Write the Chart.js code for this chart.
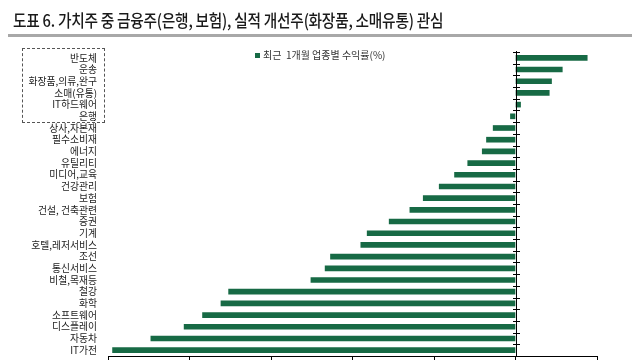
<!DOCTYPE html>
<html><head><meta charset="utf-8">
<script src="https://cdn.jsdelivr.net/npm/chart.js@4/dist/chart.umd.min.js"></script>
<style>
html,body{margin:0;padding:0;background:#fff;}
#wrap{position:relative;width:640px;height:360px;overflow:hidden;}
#c{position:absolute;left:0;top:0;}
#title{position:absolute;left:13px;top:9px;font-family:"Noto Sans CJK KR";font-size:17px;font-weight:500;color:#1a1a1a;white-space:nowrap;transform:scaleX(0.865);transform-origin:left top;line-height:22px;letter-spacing:-0.3px;}
#rule{position:absolute;left:8px;top:34px;width:624px;height:3px;background:#a8a8a8;}
#box{position:absolute;left:22px;top:48px;width:83px;height:75px;border:1.5px dashed #555;box-sizing:border-box;}
#legend{position:absolute;left:255px;top:48px;font-family:"Noto Sans CJK KR";font-size:10px;color:#333;white-space:nowrap;line-height:14px;}
#legend .sw{display:inline-block;width:5px;height:5px;background:#176a45;margin-right:3px;vertical-align:1px;}
</style></head>
<body>
<div id="wrap">
<canvas id="c" width="640" height="360"></canvas>
<div id="title">도표 6. 가치주 중 금융주(은행, 보험), 실적 개선주(화장품, 소매유통) 관심</div>
<div id="rule"></div>
<div id="box"></div>
<div id="legend"><span class="sw"></span>최근&nbsp; 1개월 업종별 수익률(%)</div>
</div>
<script>
const categories = ["반도체","운송","화장품,의류,완구","소매(유통)","IT하드웨어","은행","상사,자본재","필수소비재","에너지","유틸리티","미디어,교육","건강관리","보험","건설, 건축관련","증권","기계","호텔,레저서비스","조선","통신서비스","비철,목재등","철강","화학","소프트웨어","디스플레이","자동차","IT가전"];
const returns1M = [4.4,2.87,2.21,2.07,0.31,-0.31,-1.37,-1.78,-2.04,-2.93,-3.74,-4.68,-5.66,-6.48,-7.75,-9.1,-9.49,-11.35,-11.68,-12.55,-17.6,-18.07,-19.2,-20.33,-22.37,-24.72];
const seriesLabel = "최근  1개월 업종별 수익률(%)";
const xMin = -25, xMax = 5, xStep = 5;

const zeroAxis = {
  id:'zeroAxis',
  afterDatasetsDraw(chart){
    const {ctx, chartArea, scales:{x,y}} = chart;
    const x0 = Math.round(x.getPixelForValue(0)) + 0.5;
    ctx.save();
    ctx.strokeStyle = '#000';
    ctx.lineWidth = 1;
    ctx.beginPath();
    ctx.moveTo(x0, chartArea.top - 1);
    ctx.lineTo(x0, chartArea.bottom);
    for (let i = 0; i <= categories.length; i++) {
      const yy = Math.round(y.getPixelForValue(i - 0.5)) + 0.5;
      ctx.moveTo(x0 - 3.5, yy);
      ctx.lineTo(x0 + 3.5, yy);
    }
    ctx.stroke();
    ctx.restore();
  }
};

new Chart(document.getElementById('c'), {
  type:'bar',
  data:{labels:categories, datasets:[{label:seriesLabel, data:returns1M, backgroundColor:'#176a45', barThickness:5, borderWidth:0}]},
  options:{
    indexAxis:'y', responsive:false, animation:false,
    layout:{padding:{left:0,right:43,top:52,bottom:0}},
    plugins:{legend:{display:false}, tooltip:{enabled:false}, title:{display:false}},
    scales:{
      x:{type:'linear', min:xMin, max:xMax,
         ticks:{display:false, stepSize:xStep},
         grid:{display:true, drawOnChartArea:false, drawTicks:true, tickLength:4, color:'#000'},
         border:{display:true, color:'#000'},
         afterFit(s){ s.height = 4; s.paddingLeft = 0; s.paddingRight = 0; }},
      y:{type:'category',
         grid:{display:false, drawTicks:false},
         border:{display:false},
         ticks:{autoSkip:false, color:'#222', padding:11, font:{family:'Noto Sans CJK KR', size:9.8}},
         afterFit(s){ s.width = 108; s.paddingTop = 0; s.paddingBottom = 0; }}
    }
  },
  plugins:[zeroAxis]
});
</script>
</body></html>
